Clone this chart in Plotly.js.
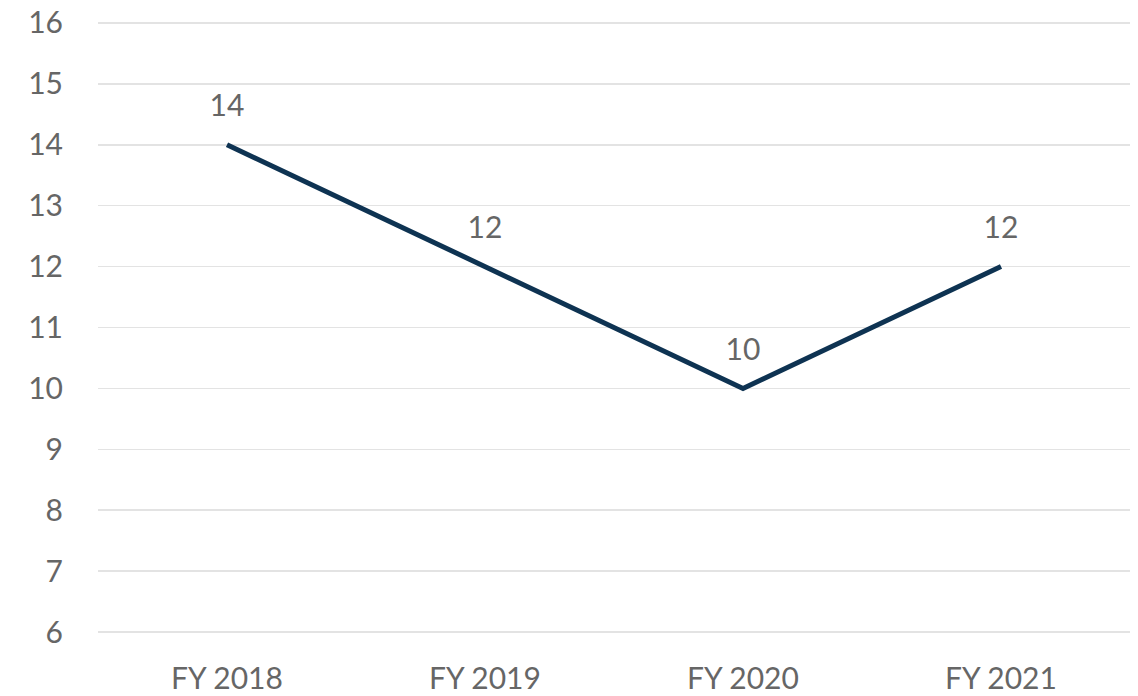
<!DOCTYPE html>
<html>
<head>
<meta charset="utf-8">
<script src="https://cdn.plot.ly/plotly-3.0.1.min.js"></script>
<style>html,body{margin:0;padding:0;background:#fff;}#chart{width:1138px;height:696px;}</style>
</head>
<body>
<div id="chart"></div>
<script>
const categories = ["FY 2018", "FY 2019", "FY 2020", "FY 2021"];
const values = [14, 12, 10, 12];
const labels = ["14", "12", "10", "12"];
const yTicks = [6, 7, 8, 9, 10, 11, 12, 13, 14, 15, 16];

const trace = {
  x: categories,
  y: values,
  text: labels,
  type: "scatter",
  mode: "lines+markers+text",
  textposition: "top center",
  line: {color: "#0e3352", width: 5},
  marker: {size: 32, color: "rgba(0,0,0,0)", line: {width: 0}},
  textfont: {family: "Lato, 'Open Sans', sans-serif", size: 30, color: "#666666"},
  hoverinfo: "skip",
  cliponaxis: false
};

const layout = {
  width: 1138,
  height: 696,
  margin: {l: 98, r: 8, t: 21, b: 62, pad: 0},
  paper_bgcolor: "#ffffff",
  plot_bgcolor: "#ffffff",
  showlegend: false,
  font: {family: "Lato, 'Open Sans', sans-serif", size: 30, color: "#666666"},
  xaxis: {
    type: "category",
    range: [-0.5, 3.5],
    showgrid: false,
    zeroline: false,
    showline: false,
    ticks: "",
    ticklabelstandoff: 24,
    tickfont: {size: 30, color: "#666666"}
  },
  yaxis: {
    range: [5.968, 16.032],
    tickvals: yTicks,
    ticktext: yTicks.map(String),
    showgrid: true,
    gridcolor: "#e3e3e3",
    gridwidth: 1.5,
    zeroline: false,
    showline: false,
    ticks: "",
    ticklabelstandoff: 34,
    tickfont: {size: 30, color: "#666666"}
  }
};

Plotly.newPlot("chart", [trace], layout, {staticPlot: true, displayModeBar: false});
</script>
</body>
</html>
